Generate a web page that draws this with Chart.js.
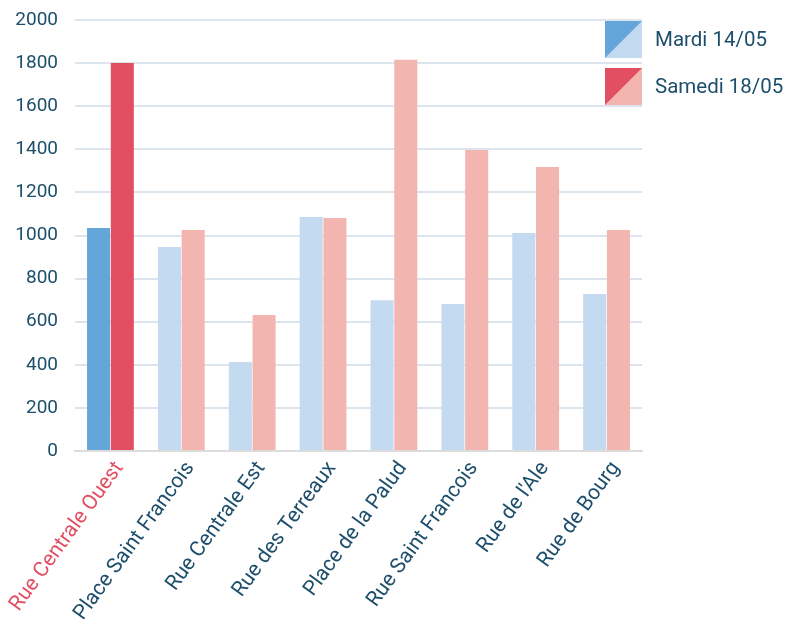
<!DOCTYPE html>
<html>
<head>
<meta charset="utf-8">
<script src="https://cdn.jsdelivr.net/npm/chart.js@4.4.1/dist/chart.umd.min.js"></script>
<style>
html,body{margin:0;padding:0;background:#fff;}
#wrap{width:787px;height:619px;position:relative;}
</style>
</head>
<body>
<div id="wrap"><canvas id="c" width="787" height="619"></canvas></div>
<script>
const categories = ["Rue Centrale Ouest","Place Saint Francois","Rue Centrale Est","Rue des Terreaux","Place de la Palud","Rue Saint Francois","Rue de l'Ale","Rue de Bourg"];
const seriesNames = ["Mardi 14/05","Samedi 18/05"];
const mardi = [1035, 947, 413, 1086, 700, 682, 1012, 728];
const samedi = [1800, 1025, 631, 1081, 1815, 1397, 1318, 1025];
const yTicks = [0,200,400,600,800,1000,1200,1400,1600,1800,2000];

const blueDark = "#65a6da", blueLight = "#c3daf0";
const redDark = "#e34f62", redLight = "#f3b5b0";
const textColor = "#1d4e6b";
const FONT = "Roboto, 'Open Sans', sans-serif";

const legendPlugin = {
  id: 'diagLegend',
  afterDraw(chart) {
    const ctx = chart.ctx;
    const items = [[blueDark, blueLight, seriesNames[0]], [redDark, redLight, seriesNames[1]]];
    const x = 605, size = 37;
    items.forEach((it, i) => {
      const y = 21 + i * 47;
      ctx.save();
      ctx.fillStyle = it[1];
      ctx.fillRect(x, y, size, size);
      ctx.beginPath();
      ctx.moveTo(x, y); ctx.lineTo(x + size, y); ctx.lineTo(x, y + size); ctx.closePath();
      ctx.fillStyle = it[0];
      ctx.fill();
      ctx.fillStyle = textColor;
      ctx.font = "20.5px " + FONT;
      ctx.textBaseline = "middle";
      ctx.textAlign = "left";
      ctx.fillText(it[2], 655, y + size / 2 + 1);
      ctx.restore();
    });
  }
};

new Chart(document.getElementById('c'), {
  type: 'bar',
  data: {
    labels: categories,
    datasets: [
      { label: seriesNames[0], data: mardi,
        backgroundColor: mardi.map((v, i) => i === 0 ? blueDark : blueLight) },
      { label: seriesNames[1], data: samedi,
        backgroundColor: samedi.map((v, i) => i === 0 ? redDark : redLight) }
    ]
  },
  options: {
    responsive: false,
    animation: false,
    devicePixelRatio: 1,
    layout: { padding: { top: 20, right: 145, left: 0, bottom: 0 } },
    datasets: { bar: { categoryPercentage: 0.67, barPercentage: 0.97 } },
    plugins: { legend: { display: false }, tooltip: { enabled: false } },
    scales: {
      x: {
        grid: { display: false, drawTicks: false },
        border: { display: true, color: "#dcdcdc", width: 2 },
        ticks: {
          minRotation: 54, maxRotation: 54, padding: 6, labelOffset: 9,
          autoSkip: false,
          font: { size: 21, family: FONT },
          color: (ctx) => ctx.index === 0 ? redDark : textColor
        },
        afterFit(s) { s.height = 168; s.paddingLeft = 0; s.paddingRight = 0; }
      },
      y: {
        min: 0, max: 2000,
        afterBuildTicks(s) { s.ticks = yTicks.map(v => ({ value: v })); },
        grid: { color: "#dce5ed", lineWidth: 2, drawTicks: false },
        border: { display: false },
        ticks: { padding: 17, font: { size: 19, family: FONT }, color: textColor,
          callback: (v) => String(v) },
        afterFit(s) { s.width = 75; s.paddingTop = 0; s.paddingBottom = 0; }
      }
    }
  },
  plugins: [legendPlugin]
});
</script>
</body>
</html>
